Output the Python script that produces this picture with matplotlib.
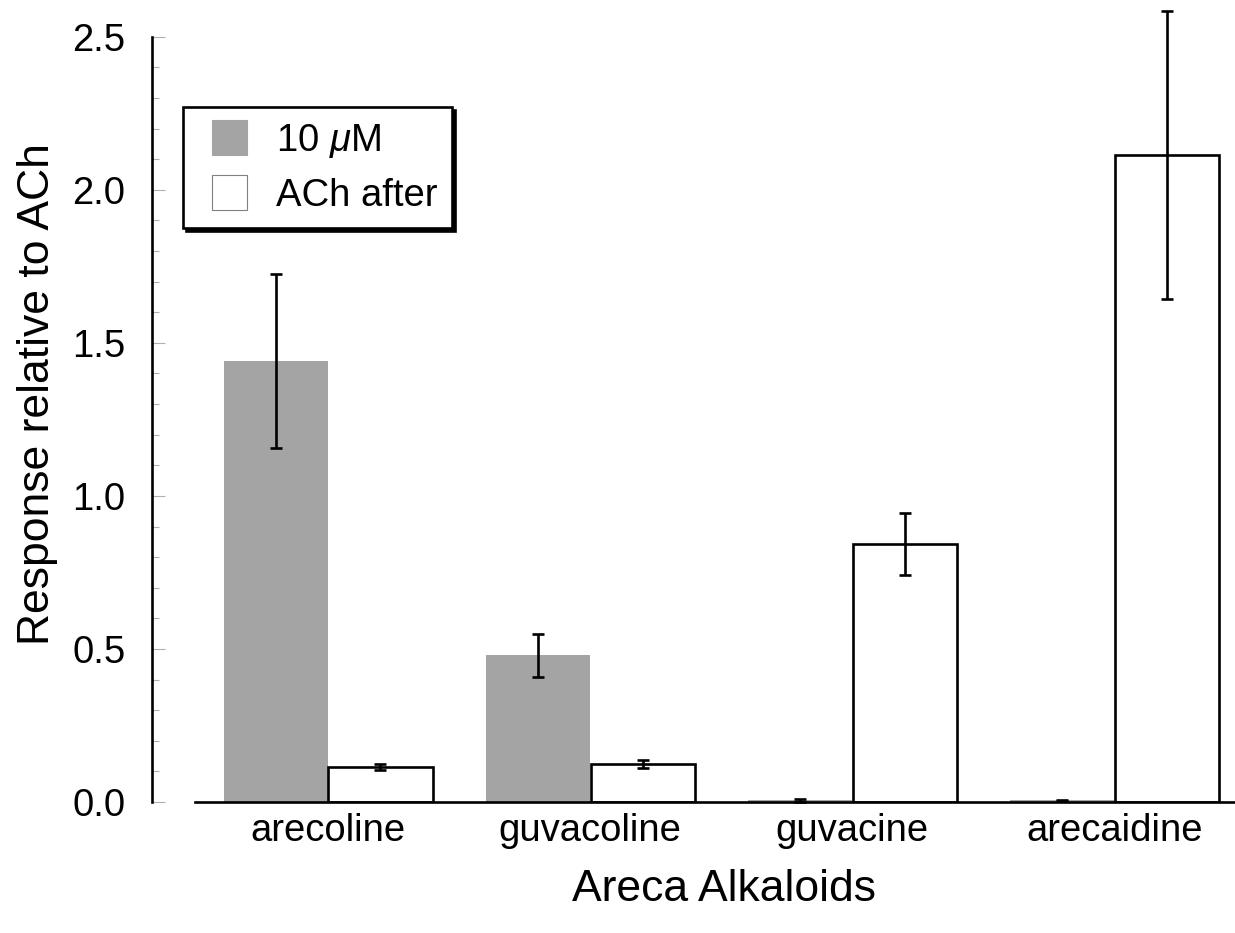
import numpy as np
import matplotlib
matplotlib.use("Agg")
import matplotlib.pyplot as plt
from matplotlib.patches import Patch, Rectangle
from matplotlib.legend_handler import HandlerPatch

plt.rcParams['font.family'] = ['Liberation Sans', 'DejaVu Sans']
plt.rcParams['mathtext.fontset'] = 'custom'
plt.rcParams['mathtext.rm'] = 'Liberation Sans'
plt.rcParams['mathtext.it'] = 'Liberation Sans:italic'

# Data
alkaloids = ['arecoline', 'guvacoline', 'guvacine', 'arecaidine']
resp_10uM = [1.44, 0.48, 0.005, 0.005]
err_10uM = [0.285, 0.07, 0.004, 0.003]
resp_ach_after = [0.114, 0.124, 0.843, 2.114]
err_ach_after = [0.01, 0.012, 0.1, 0.47]

fig = plt.figure(figsize=(12.35, 9.33), dpi=100)
ax = fig.add_axes([0.123, 0.1404, 0.877, 0.853])

x = np.arange(len(alkaloids))
w = 0.397
ax.bar(x - 0.2, resp_10uM, w, color='#a4a4a4', edgecolor='none', zorder=2)
ax.bar(x + 0.2, resp_ach_after, w, color='white', edgecolor='black', linewidth=1.9, zorder=2)
ax.errorbar(x - 0.2, resp_10uM, yerr=err_10uM, fmt='none', ecolor='black',
            elinewidth=1.9, capsize=4.5, capthick=1.9, zorder=3, clip_on=False)
ax.errorbar(x + 0.2, resp_ach_after, yerr=err_ach_after, fmt='none', ecolor='black',
            elinewidth=1.9, capsize=4.5, capthick=1.9, zorder=3, clip_on=False)

ax.set_xlim(-0.672, 3.46)
ax.set_ylim(0, 2.6)

for s in ['top', 'right']:
    ax.spines[s].set_visible(False)
ax.spines['left'].set_linewidth(1.9)
ax.spines['bottom'].set_linewidth(1.9)
ax.spines['left'].set_bounds(0, 2.5)
ax.spines['bottom'].set_bounds(-0.508, 3.46)

ax.set_yticks([0.0, 0.5, 1.0, 1.5, 2.0, 2.5])
ax.set_yticklabels(['0.0', '0.5', '1.0', '1.5', '2.0', '2.5'])
ax.set_yticks(np.arange(0, 2.51, 0.1), minor=True)
ax.tick_params(axis='y', which='major', direction='in', length=9, width=0.8,
               color='#b0b0b0', labelsize=27.5, pad=19)
ax.tick_params(axis='y', which='minor', direction='in', length=5, width=0.8,
               color='#b0b0b0')

ax.set_xticks(x)
ax.set_xticklabels(alkaloids)
ax.tick_params(axis='x', which='major', length=0, labelsize=27.5, pad=8)

ax.set_ylabel('Response relative to ACh', fontsize=32, labelpad=10, y=0.513)
ax.set_xlabel('Areca Alkaloids', fontsize=32, labelpad=14, x=0.528)


# legend squares sit a bit in from the frame edge
def square(legend, orig_handle, xdescent, ydescent, width, height, fontsize):
    side = 25.2
    return Rectangle((-xdescent + width - side, -ydescent + (height - side) / 2), side, side)


handles = [Patch(facecolor='#a4a4a4', edgecolor='#a4a4a4', linewidth=0.8),
           Patch(facecolor='white', edgecolor='#808080', linewidth=0.8)]
leg = ax.legend(handles, [r'10 $\mu$M', 'ACh after'], loc='upper left',
                bbox_to_anchor=(0.0286, 0.873), borderaxespad=0, fontsize=27.5,
                frameon=True, fancybox=False, shadow={'color': 'black', 'alpha': 1},
                handlelength=1.32, handleheight=0.92, handletextpad=0.76,
                borderpad=0.37, labelspacing=0.45,
                handler_map={Patch: HandlerPatch(patch_func=square)})
leg.get_frame().set_edgecolor('black')
leg.get_frame().set_linewidth(1.9)

fig.savefig('out.png', dpi=100)
